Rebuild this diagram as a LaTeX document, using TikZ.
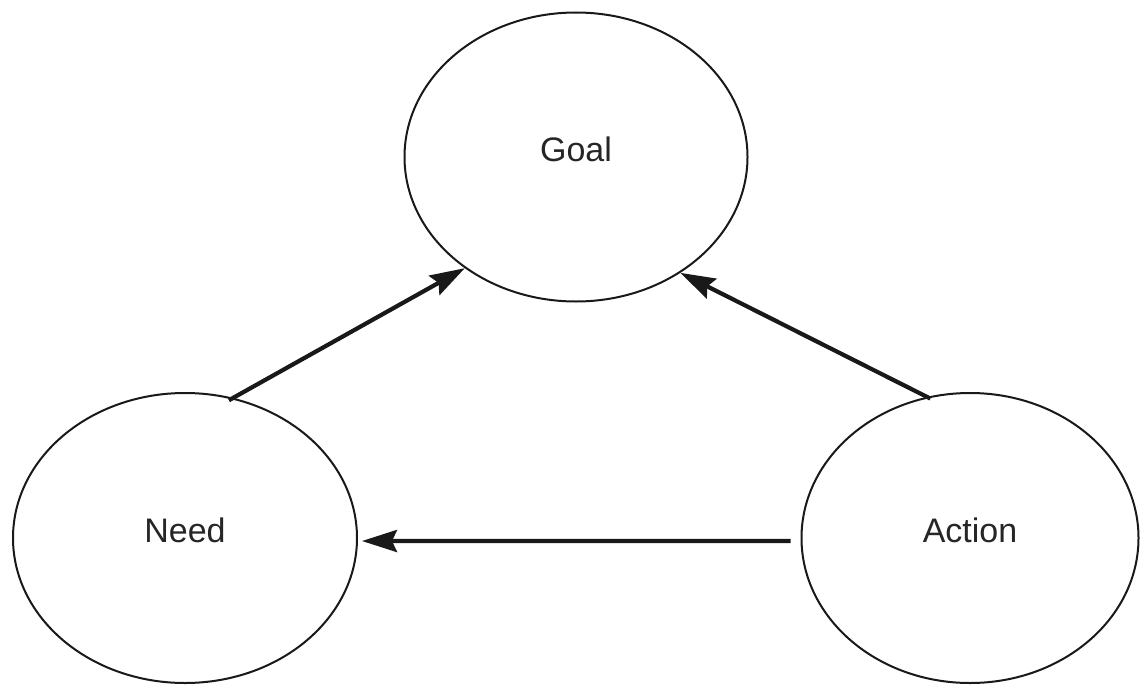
\documentclass[tikz,border=0pt]{standalone}
\usepackage{fontspec}
\setmainfont{Liberation Sans}
\usetikzlibrary{arrows.meta,shapes.geometric}
\tikzset{
  bubble/.style={draw=black!90, line width=2pt, ellipse, inner sep=0pt},
  bubbletext/.style={font=\fontsize{34}{40}\selectfont, text=black!85, yshift=8pt},
  arr/.style={line width=4.2pt, -{Stealth[length=35pt,width=22pt,inset=5pt]}, black!90}
}
\begin{document}
\begin{tikzpicture}[x=1pt,y=-1pt]
\useasboundingbox[fill=white] (0,0) rectangle (1140,685);
\node[bubble, minimum width=343pt, minimum height=289pt,
  label={[bubbletext]center:Goal}] (Goal) at (576,157) {};
\node[bubble, minimum width=344pt, minimum height=290pt,
  label={[bubbletext]center:Need}] (Need) at (185,538) {};
\node[bubble, minimum width=337pt, minimum height=290pt,
  label={[bubbletext]center:Action}] (Action) at (970,538) {};
\draw[arr, shorten <=-5pt] (Need.71) -- (Goal.225.5);
\draw[arr, shorten <=-4pt] (Action.107) -- (Goal.312.7);
\draw[arr] ([xshift=-10pt]Action.181) -- ([xshift=4pt]Need.-1);
\end{tikzpicture}
\end{document}
